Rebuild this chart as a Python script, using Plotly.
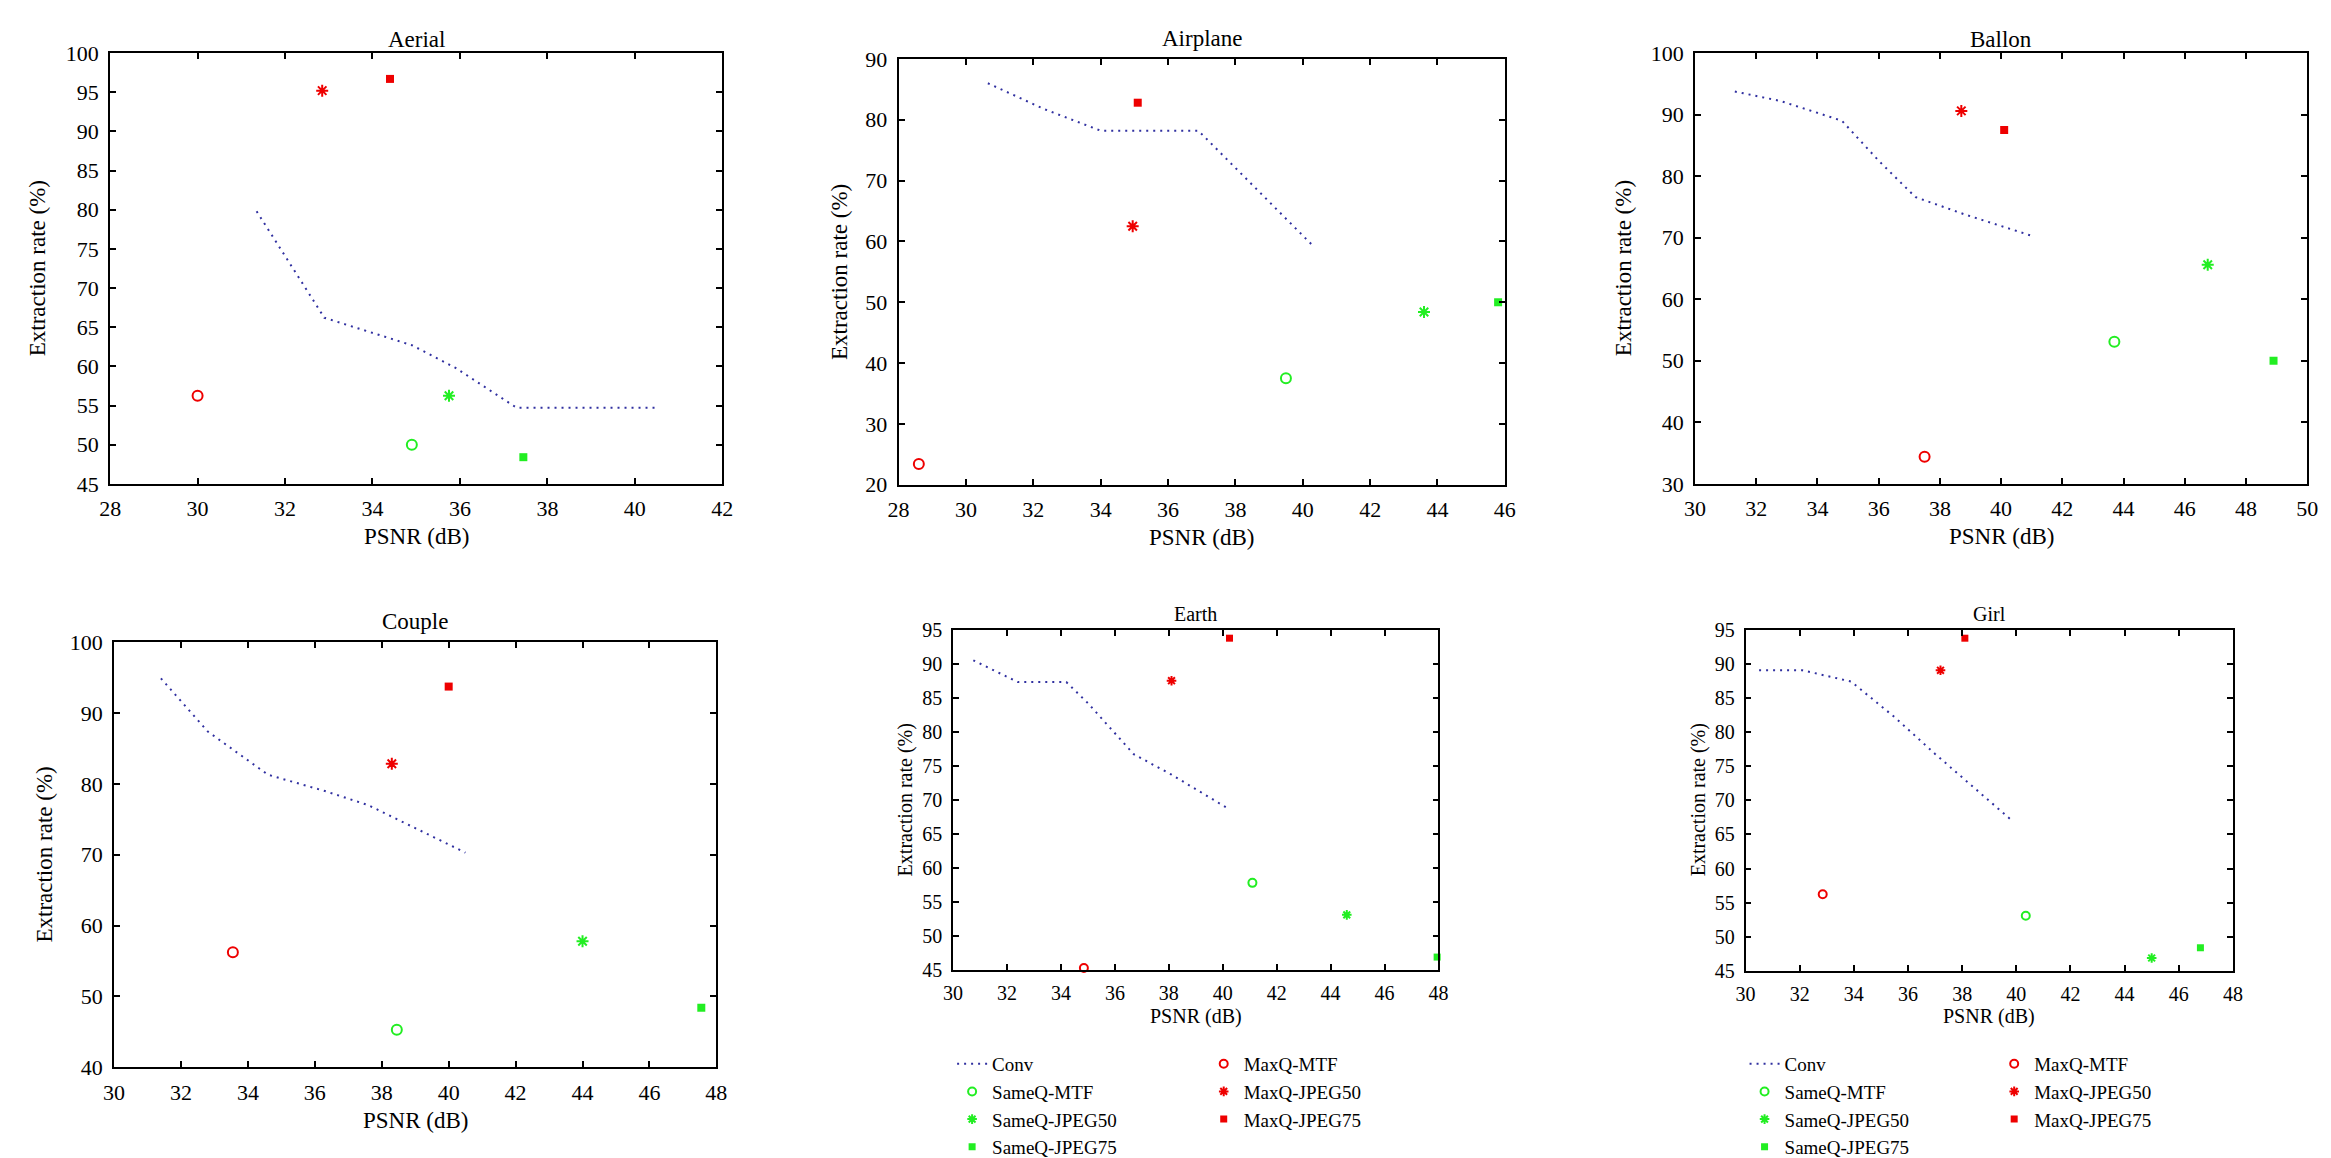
import plotly.graph_objects as go

# ---------------- data ----------------
images = ["Aerial", "Airplane", "Ballon", "Couple", "Earth", "Girl"]
methods = ["SameQ-MTF", "SameQ-JPEG50", "SameQ-JPEG75", "MaxQ-MTF", "MaxQ-JPEG50", "MaxQ-JPEG75"]

aerial_conv_x = [31.35, 32.9, 34.9, 35.9, 37.3, 40.45]
aerial_conv_y = [79.8, 66.2, 62.7, 59.8, 54.7, 54.7]
aerial_pts_x = [34.9, 35.75, 37.45, 30.0, 32.85, 34.4]
aerial_pts_y = [50.0, 56.25, 48.4, 56.25, 95.2, 96.7]

airplane_conv_x = [30.65, 32.3, 34.0, 36.9, 40.3]
airplane_conv_y = [86.0, 81.8, 78.2, 78.2, 59.3]
airplane_pts_x = [39.5, 43.6, 45.8, 28.6, 34.95, 35.1]
airplane_pts_y = [37.5, 48.4, 50.0, 23.4, 62.5, 82.8]

ballon_conv_x = [31.3, 32.8, 34.8, 36.0, 37.2, 38.8, 41.0]
ballon_conv_y = [93.75, 92.2, 89.0, 82.5, 76.6, 73.8, 70.3]
ballon_pts_x = [43.7, 46.75, 48.9, 37.5, 38.7, 40.1]
ballon_pts_y = [53.1, 65.6, 50.0, 34.4, 90.6, 87.5]

couple_conv_x = [31.4, 32.8, 34.6, 36.3, 37.6, 39.0, 40.5]
couple_conv_y = [94.9, 87.4, 81.3, 79.0, 77.0, 73.8, 70.3]
couple_pts_x = [38.45, 44.0, 47.55, 33.55, 38.3, 40.0]
couple_pts_y = [45.3, 57.8, 48.4, 56.25, 82.85, 93.75]

earth_conv_x = [30.75, 32.4, 34.2, 35.0, 36.7, 38.1, 40.25]
earth_conv_y = [90.5, 87.3, 87.3, 84.2, 76.7, 73.7, 68.6]
earth_pts_x = [41.1, 44.6, 47.95, 34.85, 38.1, 40.25]
earth_pts_y = [57.8, 53.1, 46.9, 45.3, 87.5, 93.75]

girl_conv_x = [30.5, 32.1, 33.9, 35.5, 37.0, 39.85]
girl_conv_y = [89.05, 89.05, 87.4, 82.2, 76.8, 67.0]
girl_pts_x = [40.35, 45.0, 46.8, 32.85, 37.2, 38.1]
girl_pts_y = [53.1, 46.9, 48.4, 56.25, 89.05, 93.75]

x_ranges = [[28, 42], [28, 46], [30, 50], [30, 48], [30, 48], [30, 48]]
y_ranges = [[45, 100], [20, 90], [30, 100], [40, 100], [45, 95], [45, 95]]
y_dticks = [5, 10, 10, 10, 5, 5]

conv_xs = [aerial_conv_x, airplane_conv_x, ballon_conv_x, couple_conv_x, earth_conv_x, girl_conv_x]
conv_ys = [aerial_conv_y, airplane_conv_y, ballon_conv_y, couple_conv_y, earth_conv_y, girl_conv_y]
pts_xs = [aerial_pts_x, airplane_pts_x, ballon_pts_x, couple_pts_x, earth_pts_x, girl_pts_x]
pts_ys = [aerial_pts_y, airplane_pts_y, ballon_pts_y, couple_pts_y, earth_pts_y, girl_pts_y]

# ---------------- layout / styles ----------------
W, H = 2331, 1158
FONT = "Liberation Serif"
RED = "#ee0000"
GREEN = "#22ee22"
BLUE = "#3030a0"

# plot frames in pixels: (left, right, top, bottom)
frames = [
    (92, 710, 34, 477),
    (888, 1500, 40, 478),
    (1692, 2310, 34, 477),
    (96, 704, 640, 1077),
    (943, 1433, 627, 977),
    (1743, 2235, 627, 978),
]
tick_fs = [22, 22, 22, 22, 20, 20]
title_fs = [23, 23, 23, 23, 20, 20]
axtitle_fs = [23, 23, 23, 23, 20, 20]
title_y = [20, 19, 20, 619, 611, 611]
xtitle_y = [531, 532, 531, 1132, 1025, 1025]
ytitle_x = [19, 829, 1620, 26, 895, 1695]
msize = [10, 10, 10, 10, 8, 8]
ssize = [8, 8, 8, 8, 7, 7]

def marker_style(m, i):
    col = GREEN if m.startswith("SameQ") else RED
    if m.endswith("MTF"):
        return dict(symbol="circle-open", color=col, size=msize[i], line=dict(color=col, width=2))
    if m.endswith("JPEG50"):
        return dict(symbol="asterisk-open", color=col, size=msize[i], line=dict(color=col, width=2))
    return dict(symbol="square", color=col, size=ssize[i], line=dict(color=col, width=0))

fig = go.Figure()

def px_x(v):
    return v / W

def px_y(v):
    return 1 - v / H

annotations = []
for i, name in enumerate(images):
    l, r, t, b = frames[i]
    ax_id = "" if i == 0 else str(i + 1)
    xref = "x" + ax_id
    yref = "y" + ax_id
    if i == 4:
        leg_a, leg_b, show = "legend", "legend2", True
    elif i == 5:
        leg_a, leg_b, show = "legend3", "legend4", True
    else:
        leg_a, leg_b, show = "legend", "legend2", False

    fig.add_trace(go.Scatter(
        x=conv_xs[i], y=conv_ys[i], mode="lines", name="Conv",
        line=dict(color=BLUE, width=2, dash="2px,5px"),
        xaxis=xref, yaxis=yref, showlegend=show, legend=leg_a, cliponaxis=False))
    for k, m in enumerate(methods):
        fig.add_trace(go.Scatter(
            x=[pts_xs[i][k]], y=[pts_ys[i][k]], mode="markers", name=m,
            marker=marker_style(m, i), xaxis=xref, yaxis=yref,
            showlegend=show, legend=(leg_a if m.startswith("SameQ") else leg_b),
            cliponaxis=False))

    axis_common = dict(
        showline=True, linecolor="black", linewidth=1.8, mirror="ticks",
        ticks="inside", ticklen=6, tickwidth=1.8, tickcolor="black",
        showgrid=False, zeroline=False,
        tickfont=dict(family=FONT, size=tick_fs[i], color="black"),
    )
    fig.layout["xaxis" + ax_id] = dict(
        domain=[px_x(l), px_x(r)], range=x_ranges[i], dtick=2, tick0=0,
        anchor=yref, ticklabelstandoff=4, **axis_common)
    fig.layout["yaxis" + ax_id] = dict(
        domain=[px_y(b), px_y(t)], range=y_ranges[i], dtick=y_dticks[i], tick0=0,
        anchor=xref, ticklabelstandoff=5, **axis_common)

    annotations.append(dict(
        text=name, x=px_x((l + r) / 2), y=px_y(title_y[i]), xref="paper", yref="paper",
        xanchor="center", yanchor="middle", showarrow=False,
        font=dict(family=FONT, size=title_fs[i], color="black")))
    annotations.append(dict(
        text="PSNR (dB)", x=px_x((l + r) / 2), y=px_y(xtitle_y[i]), xref="paper", yref="paper",
        xanchor="center", yanchor="middle", showarrow=False,
        font=dict(family=FONT, size=axtitle_fs[i], color="black")))
    annotations.append(dict(
        text="Extraction rate (%)", x=px_x(ytitle_x[i]), y=px_y((t + b) / 2),
        xref="paper", yref="paper", xanchor="center", yanchor="middle",
        textangle=-90, showarrow=False,
        font=dict(family=FONT, size=axtitle_fs[i], color="black")))

legend_common = dict(
    xanchor="left", yanchor="top", bgcolor="rgba(0,0,0,0)", borderwidth=0,
    font=dict(family=FONT, size=19, color="black"), tracegroupgap=0,
    orientation="v", itemclick=False, itemdoubleclick=False,
)
leg_top = px_y(1054)
fig.update_layout(
    width=W, height=H,
    margin=dict(l=0, r=0, t=0, b=0),
    paper_bgcolor="white", plot_bgcolor="white",
    annotations=annotations,
    legend=dict(x=px_x(942), y=leg_top, **legend_common),
    legend2=dict(x=px_x(1196), y=leg_top, **legend_common),
    legend3=dict(x=px_x(1742), y=leg_top, **legend_common),
    legend4=dict(x=px_x(1994), y=leg_top, **legend_common),
)

fig.write_html("out.html")
